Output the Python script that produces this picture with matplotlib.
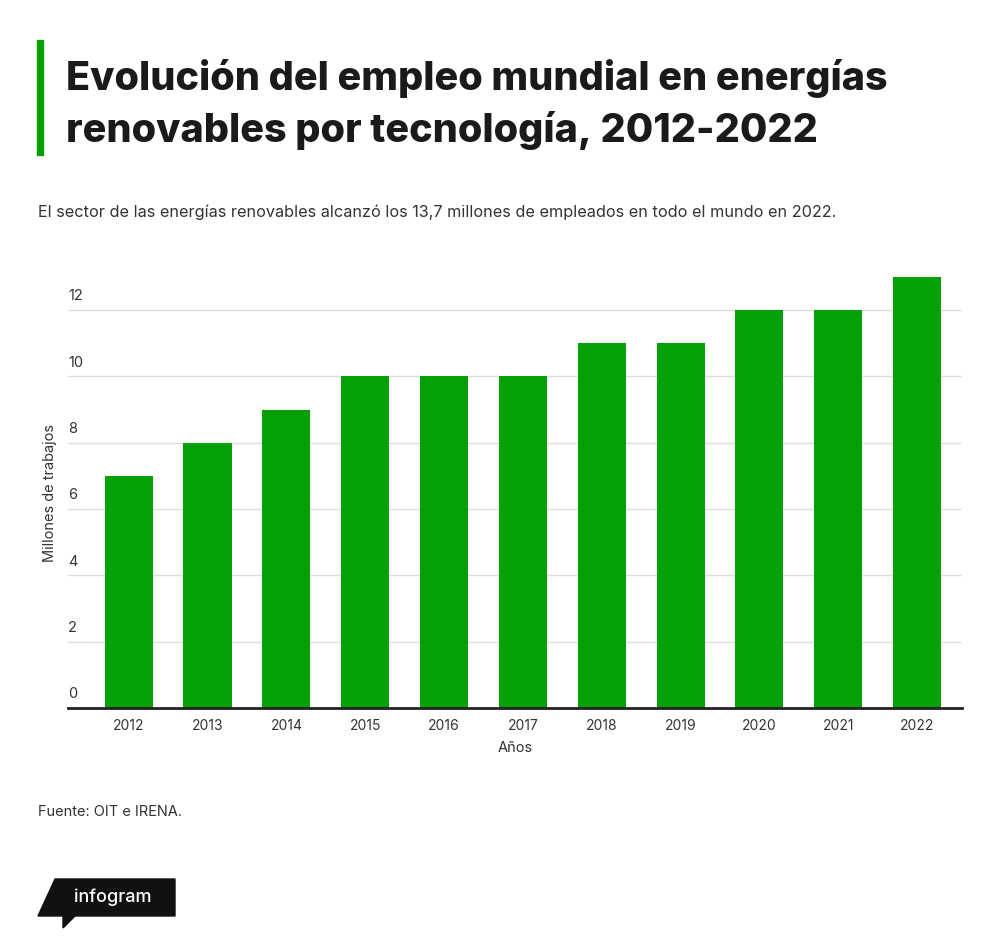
import matplotlib.pyplot as plt
from matplotlib.patches import Polygon, Rectangle

years = ['2012', '2013', '2014', '2015', '2016', '2017', '2018', '2019', '2020', '2021', '2022']
jobs = [7, 8, 9, 10, 10, 10, 11, 11, 12, 12, 13]
yticks = [0, 2, 4, 6, 8, 10, 12]

W, H = 1000, 948
fig = plt.figure(figsize=(10, 9.48), dpi=100)
plt.rcParams['font.family'] = ['Inter', 'DejaVu Sans']

def fx(px):
    return px / W

def fy(py):
    return 1 - py / H

ax = fig.add_axes([fx(68), fy(708), fx(962) - fx(68), fy(267) - fy(708)])
x = list(range(len(years)))
ax.bar(x, jobs, width=0.61, color='#05a005', zorder=2)
ax.set_xlim(-0.77, 10.57)
ax.set_ylim(0, 13.3)

for s in ['top', 'right', 'left']:
    ax.spines[s].set_visible(False)
ax.spines['bottom'].set_color('#222222')
ax.spines['bottom'].set_linewidth(2)
ax.set_yticks(yticks)
ax.set_yticklabels([])
ax.tick_params(axis='y', length=0)
ax.grid(axis='y', color='#dddddd', linewidth=1, zorder=0)
for v in yticks:
    ax.text(-0.77, v + 0.2, str(v), ha='left', va='bottom', fontsize=10.5, color='#333333')
ax.set_xticks(x)
ax.set_xticklabels(years, fontsize=10, color='#333333')
ax.tick_params(axis='x', length=0, pad=8)
ax.set_xlabel('Años', fontsize=10.5, color='#333333', labelpad=6)
fig.text(fx(50), fy(493), 'Millones de trabajos', rotation=90, ha='center', va='center',
         fontsize=10.5, color='#333333')

# title block
fig.add_artist(Rectangle((fx(37), fy(155)), fx(6), fy(40) - fy(155), color='#05a005',
                         transform=fig.transFigure))
fig.text(fx(66), fy(78), 'Evolución del empleo mundial en energías', fontsize=28.5,
         fontweight='heavy', color='#1a1a1a', va='center', ha='left')
fig.text(fx(66), fy(130), 'renovables por tecnología, 2012-2022', fontsize=28.5,
         fontweight='heavy', color='#1a1a1a', va='center', ha='left')
fig.text(fx(38), fy(212), 'El sector de las energías renovables alcanzó los 13,7 millones de '
         'empleados en todo el mundo en 2022.', fontsize=11.7, color='#333333', va='center')
fig.text(fx(38), fy(812), 'Fuente: OIT e IRENA.', fontsize=10.5, color='#333333', va='center')

# infogram logo
logo = [(fx(55), fy(879)), (fx(175), fy(879)), (fx(175), fy(916)), (fx(75), fy(916)),
        (fx(63), fy(928)), (fx(63), fy(916)), (fx(38), fy(916))]
fig.add_artist(Polygon(logo, closed=True, color='#111111', transform=fig.transFigure))
fig.text(fx(113), fy(897), 'infogram', fontsize=13, color='white', ha='center', va='center',
         fontweight='medium')

fig.savefig('out.png', dpi=100, facecolor='white')
